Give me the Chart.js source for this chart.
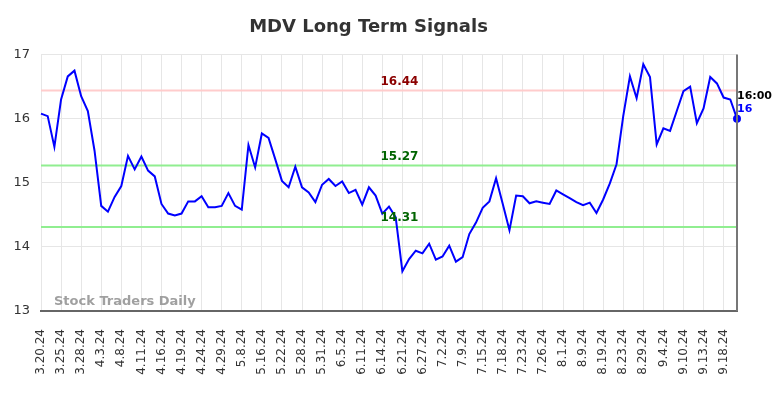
<!DOCTYPE html>
<html>
<head>
<meta charset="utf-8">
<script src="https://cdn.jsdelivr.net/npm/chart.js@4.4.1/dist/chart.umd.min.js"></script>
<style>
    html, body { margin: 0; padding: 0; background: #fff; }
    #wrap { width: 784px; height: 398px; }
</style>
</head>
<body>
<div id="wrap"><canvas id="myChart"></canvas></div>
<script>
const dates = [
    '3.20.24', '3.21.24', '3.22.24', '3.25.24', '3.26.24', '3.27.24', '3.28.24', '4.1.24', '4.2.24', '4.3.24',
    '4.4.24', '4.5.24', '4.8.24', '4.9.24', '4.10.24', '4.11.24', '4.12.24', '4.15.24', '4.16.24', '4.17.24',
    '4.18.24', '4.19.24', '4.22.24', '4.23.24', '4.24.24', '4.25.24', '4.26.24', '4.29.24', '4.30.24', '5.3.24',
    '5.8.24', '5.10.24', '5.14.24', '5.16.24', '5.17.24', '5.21.24', '5.22.24', '5.23.24', '5.24.24', '5.28.24',
    '5.29.24', '5.30.24', '5.31.24', '6.3.24', '6.4.24', '6.5.24', '6.6.24', '6.10.24', '6.11.24', '6.12.24',
    '6.13.24', '6.14.24', '6.17.24', '6.20.24', '6.21.24', '6.24.24', '6.26.24', '6.27.24', '6.28.24', '7.1.24',
    '7.2.24', '7.3.24', '7.8.24', '7.9.24', '7.10.24', '7.12.24', '7.15.24', '7.16.24', '7.17.24', '7.18.24',
    '7.19.24', '7.22.24', '7.23.24', '7.24.24', '7.25.24', '7.26.24', '7.29.24', '7.31.24', '8.1.24', '8.5.24',
    '8.7.24', '8.9.24', '8.13.24', '8.15.24', '8.19.24', '8.20.24', '8.22.24', '8.23.24', '8.26.24', '8.28.24',
    '8.29.24', '8.30.24', '9.3.24', '9.4.24', '9.6.24', '9.9.24', '9.10.24', '9.11.24', '9.12.24', '9.13.24',
    '9.16.24', '9.17.24', '9.18.24', '9.19.24', '9.20.24'
];
const prices = [
    16.08, 16.04, 15.56, 16.30, 16.66, 16.75, 16.35, 16.12, 15.50, 14.64,
    14.55, 14.78, 14.95, 15.42, 15.21, 15.41, 15.19, 15.10, 14.67, 14.52,
    14.49, 14.52, 14.71, 14.71, 14.79, 14.62, 14.62, 14.64, 14.84, 14.64,
    14.58, 15.59, 15.24, 15.77, 15.70, 15.37, 15.03, 14.93, 15.25, 14.93,
    14.85, 14.70, 14.97, 15.06, 14.95, 15.02, 14.84, 14.89, 14.66, 14.93,
    14.80, 14.52, 14.63, 14.46, 13.62, 13.81, 13.94, 13.90, 14.05, 13.80,
    13.85, 14.02, 13.77, 13.84, 14.20, 14.38, 14.61, 14.71, 15.07, 14.67,
    14.26, 14.80, 14.79, 14.68, 14.71, 14.69, 14.67, 14.88, 14.82, 14.76,
    14.70, 14.65, 14.69, 14.53, 14.74, 14.99, 15.29, 16.04, 16.66, 16.32,
    16.85, 16.65, 15.60, 15.85, 15.81, 16.12, 16.43, 16.50, 15.93, 16.16,
    16.65, 16.55, 16.33, 16.30, 16.00
];
const yTicks = [13, 14, 15, 16, 17];
const levels = [16.44, 15.27, 14.31];
const levelLabels = ['16.44', '15.27', '14.31'];
const lastTime = '16:00';
const lastValue = '16';

const levelLineColors = ['#ffcccc', '#90ee90', '#90ee90'];
const levelTextColors = ['#8b0000', '#006400', '#006400'];

// линии сигналов, водяной знак и подписи последней точки
const signalLines = {
    id: 'signalLines',
    beforeDatasetsDraw(chart) {
        const {ctx, chartArea, scales} = chart;
        ctx.save();
        ctx.font = 'bold 13px "DejaVu Sans"';
        ctx.fillStyle = 'rgba(150,150,150,0.9)';
        ctx.textAlign = 'left';
        ctx.textBaseline = 'middle';
        ctx.fillText('Stock Traders Daily', chartArea.left + 13, chartArea.bottom - 9);
        levels.forEach((v, i) => {
            const y = scales.y.getPixelForValue(v);
            ctx.strokeStyle = levelLineColors[i];
            ctx.lineWidth = 2;
            ctx.beginPath();
            ctx.moveTo(chartArea.left, y);
            ctx.lineTo(chartArea.right, y);
            ctx.stroke();
        });
        ctx.restore();
    },
    afterDatasetsDraw(chart) {
        const {ctx, chartArea, scales} = chart;
        ctx.save();
        ctx.font = 'bold 12px "DejaVu Sans"';
        ctx.textAlign = 'center';
        ctx.textBaseline = 'bottom';
        const lx = chartArea.left + (chartArea.right - chartArea.left) * 0.515;
        levels.forEach((v, i) => {
            const y = scales.y.getPixelForValue(v);
            ctx.fillStyle = levelTextColors[i];
            ctx.fillText(levelLabels[i], lx, y - 3);
        });
        // правая граница
        ctx.strokeStyle = '#777';
        ctx.lineWidth = 2;
        ctx.beginPath();
        ctx.moveTo(chartArea.right, chartArea.top);
        ctx.lineTo(chartArea.right, chartArea.bottom);
        ctx.stroke();
        const last = prices.length - 1;
        const px = scales.x.getPixelForValue(last);
        const py = scales.y.getPixelForValue(prices[last]);
        ctx.font = 'bold 11px "DejaVu Sans"';
        ctx.textAlign = 'left';
        ctx.textBaseline = 'middle';
        ctx.fillStyle = '#000';
        ctx.fillText(lastTime, px, py - 23);
        ctx.fillStyle = '#0000ff';
        ctx.fillText(lastValue, px, py - 10);
        ctx.restore();
    }
};

let ctx = document.getElementById('myChart');
let myChart = new Chart(ctx, {
    type: 'line',
    data: {
        labels: dates,
        datasets: [{
            label: 'MDV',
            data: prices,
            borderColor: '#0000ff',
            backgroundColor: '#0000ff',
            borderWidth: 2,
            tension: 0,
            fill: false,
            pointRadius: c => c.dataIndex === prices.length - 1 ? 4 : 0,
            pointHoverRadius: 0,
            pointBackgroundColor: '#0000ff',
            pointBorderWidth: 0
        }]
    },
    options: {
        responsive: true,
        maintainAspectRatio: false,
        animation: false,
        layout: {
            padding: { left: 0, right: 47, top: 0, bottom: 0 }
        },
        scales: {
            x: {
                afterFit: s => { s.height = 87; },
                ticks: {
                    autoSkip: false,
                    maxRotation: 90,
                    minRotation: 90,
                    padding: 18,
                    color: '#333',
                    font: { family: 'DejaVu Sans', size: 12 },
                    callback: (v, i) => i % 3 === 0 ? dates[i] : null
                },
                grid: {
                    color: '#e6e6e6',
                    lineWidth: 1,
                    drawTicks: false
                },
                border: {
                    color: '#666',
                    width: 2
                }
            },
            y: {
                min: 13,
                max: 17,
                afterFit: s => { s.width = 41; },
                afterBuildTicks: s => { s.ticks = yTicks.map(v => ({ value: v })); },
                ticks: {
                    padding: 11,
                    color: '#333',
                    font: { family: 'DejaVu Sans', size: 13 }
                },
                grid: {
                    color: '#e6e6e6',
                    lineWidth: 1,
                    drawTicks: false
                },
                border: {
                    display: false
                }
            }
        },
        plugins: {
            legend: {
                display: false
            },
            tooltip: {
                enabled: false
            },
            title: {
                display: true,
                text: 'MDV Long Term Signals',
                color: '#333',
                font: { family: 'DejaVu Sans', size: 18, weight: 'bold' },
                padding: { top: 17, bottom: 16 }
            }
        }
    },
    plugins: [signalLines]
});
</script>
</body>
</html>
